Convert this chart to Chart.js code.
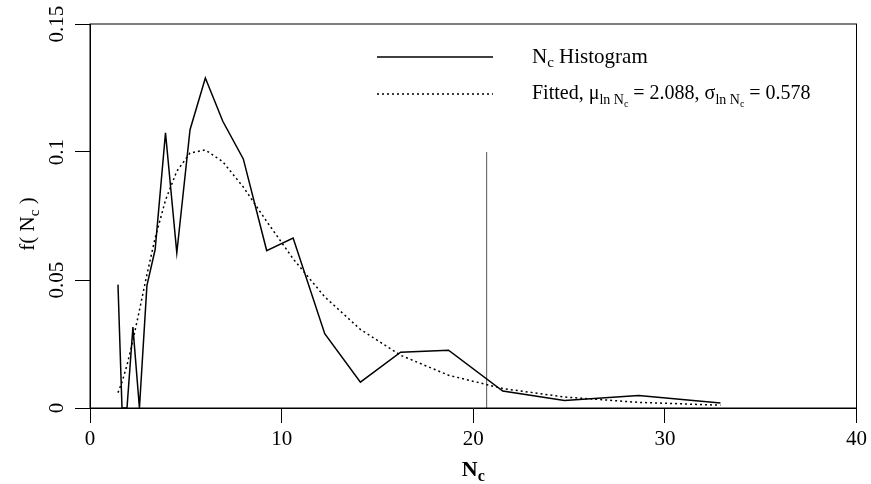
<!DOCTYPE html>
<html lang="en">
<head>
  <meta charset="UTF-8" />
  <title>Nc Histogram</title>
  <script src="https://cdn.jsdelivr.net/npm/chart.js"></script>
  <style>
    body { margin: 0; background: #fff; }
    #wrap { width: 871px; height: 484px; }
  </style>
</head>
<body>
  <div id="wrap"><canvas id="ncChart" width="871" height="484"></canvas></div>

  <script>
    // bin midpoints and densities
    const nc = [1.46, 1.67, 1.93, 2.24, 2.58, 2.97, 3.40, 3.94, 4.53, 5.22, 6.02, 6.93,
                8.00, 9.22, 10.6, 12.25, 14.11, 16.21, 18.71, 21.54, 24.76, 28.63, 32.9];
    const histDensity = [0.0482, 0, 0, 0.0316, 0, 0.0478, 0.0619, 0.1075, 0.0606, 0.1087, 0.1289, 0.112,
                         0.0973, 0.0615, 0.0664, 0.029, 0.0101, 0.0218, 0.0226, 0.0066, 0.0029, 0.0049, 0.002];
    const fittedDensity = [0.0060, 0.0101, 0.0167, 0.0264, 0.0382, 0.0521, 0.0664, 0.0812, 0.0925, 0.0996, 0.1008, 0.0962,
                           0.0863, 0.0729, 0.0583, 0.0434, 0.0307, 0.0206, 0.0128, 0.0076, 0.0043, 0.0022, 0.0011];
    const cutoffX = [20.7, 20.7];
    const cutoffY = [0, 0.1];

    const xTicks = [0, 10, 20, 30, 40];
    const yTicks = [0, 0.05, 0.1, 0.15];
    const yTickLabels = ['0', '0.05', '0.1', '0.15'];

    const SERIF = '"Liberation Serif", "Times New Roman", serif';

    function pts(xs, ys) { return xs.map((v, i) => ({ x: v, y: ys[i] })); }

    // draws a run of text pieces, each with own size / vertical shift
    function drawRich(ctx, pieces, x, y, align) {
      let total = 0;
      pieces.forEach(p => {
        ctx.font = (p.bold ? 'bold ' : '') + p.size + 'px ' + SERIF;
        p.w = ctx.measureText(p.t).width;
        total += p.w;
      });
      let cx = align === 'center' ? x - total / 2 : x;
      ctx.textAlign = 'left';
      ctx.textBaseline = 'alphabetic';
      pieces.forEach(p => {
        ctx.font = (p.bold ? 'bold ' : '') + p.size + 'px ' + SERIF;
        ctx.fillText(p.t, cx, y + (p.dy || 0));
        cx += p.w;
      });
    }

    const overlay = {
      id: 'overlay',
      afterDraw(chart) {
        const { ctx, chartArea: a, scales: { y } } = chart;
        ctx.save();
        ctx.strokeStyle = '#000';
        ctx.lineWidth = 1;
        ctx.strokeRect(a.left, a.top, a.right - a.left, a.bottom - a.top);

        ctx.fillStyle = '#000';
        // y tick labels, rotated like the original
        ctx.font = '21px ' + SERIF;
        yTicks.forEach((v, i) => {
          ctx.save();
          ctx.translate(57, y.getPixelForValue(v));
          ctx.rotate(-Math.PI / 2);
          ctx.textAlign = 'center';
          ctx.textBaseline = 'middle';
          ctx.fillText(yTickLabels[i], 0, 0);
          ctx.restore();
        });

        // y title f( Nc )
        ctx.save();
        ctx.translate(34, 224);
        ctx.rotate(-Math.PI / 2);
        drawRich(ctx, [
          { t: 'f( N', size: 21 },
          { t: 'c', size: 15, dy: 5 },
          { t: ' )', size: 21 }
        ], 0, 0, 'center');
        ctx.restore();

        // x title
        drawRich(ctx, [
          { t: 'N', size: 22, bold: true },
          { t: 'c', size: 16, dy: 5, bold: true }
        ], (a.left + a.right) / 2, 476, 'center');

        // legend
        ctx.strokeStyle = '#000';
        ctx.lineWidth = 1.5;
        ctx.beginPath();
        ctx.moveTo(377, 57); ctx.lineTo(493, 57);
        ctx.stroke();
        ctx.setLineDash([2, 3]);
        ctx.beginPath();
        ctx.moveTo(377, 94); ctx.lineTo(493, 94);
        ctx.stroke();
        ctx.setLineDash([]);

        drawRich(ctx, [
          { t: 'N', size: 21 },
          { t: 'c', size: 15, dy: 4 },
          { t: ' Histogram', size: 21 }
        ], 532, 63);

        drawRich(ctx, [
          { t: 'Fitted, \u03bc', size: 20 },
          { t: 'ln N', size: 14, dy: 5 },
          { t: 'c', size: 10, dy: 8 },
          { t: ' = 2.088, \u03c3', size: 20 },
          { t: 'ln N', size: 14, dy: 5 },
          { t: 'c', size: 10, dy: 8 },
          { t: ' = 0.578', size: 20 }
        ], 532, 99);

        ctx.restore();
      }
    };

    new Chart(document.getElementById('ncChart'), {
      type: 'scatter',
      data: {
        datasets: [
          {
            label: 'Nc Histogram',
            data: pts(nc, histDensity),
            showLine: true,
            borderColor: '#000',
            borderWidth: 1.5,
            pointRadius: 0,
            tension: 0
          },
          {
            label: 'Fitted',
            data: pts(nc, fittedDensity),
            showLine: true,
            borderColor: '#000',
            borderWidth: 1.5,
            borderDash: [2, 3],
            pointRadius: 0,
            tension: 0
          },
          {
            label: 'cutoff',
            data: pts(cutoffX, cutoffY),
            showLine: true,
            borderColor: '#555',
            borderWidth: 1,
            pointRadius: 0
          }
        ]
      },
      options: {
        responsive: false,
        animation: false,
        layout: { padding: { top: 24, right: 13, left: 0, bottom: 0 } },
        plugins: { legend: { display: false }, tooltip: { enabled: false } },
        scales: {
          x: {
            type: 'linear',
            min: 0,
            max: 40,
            afterBuildTicks: s => { s.ticks = xTicks.map(v => ({ value: v })); },
            afterFit: s => { s.height = 76; },
            grid: { drawOnChartArea: false, drawTicks: true, tickLength: 15, color: '#000', lineWidth: 1 },
            border: { display: true, color: '#000', width: 1 },
            ticks: {
              color: '#000',
              font: { family: SERIF, size: 21 },
              padding: 4,
              maxRotation: 0,
              autoSkip: false
            }
          },
          y: {
            min: 0,
            max: 0.15,
            afterBuildTicks: s => { s.ticks = yTicks.map(v => ({ value: v })); },
            afterFit: s => { s.width = 90; },
            grid: { drawOnChartArea: false, drawTicks: true, tickLength: 15, color: '#000', lineWidth: 1 },
            border: { display: true, color: '#000', width: 1 },
            ticks: { display: false }
          }
        }
      },
      plugins: [overlay]
    });
  </script>
</body>
</html>
